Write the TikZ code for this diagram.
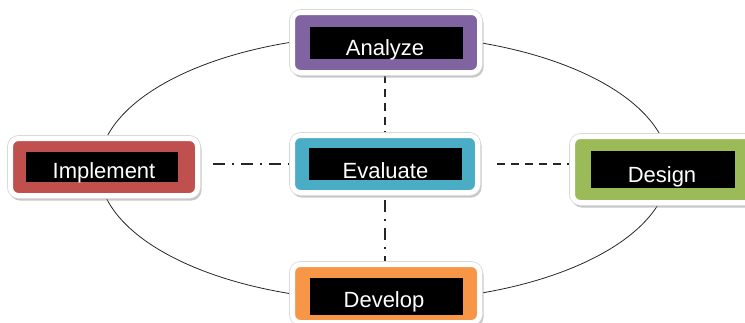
\documentclass[tikz,border=0pt]{standalone}
\usepackage{fontspec}
\setmainfont{Liberation Sans}
\usetikzlibrary{shadows,backgrounds}
\definecolor{cAn}{HTML}{8064A2}
\definecolor{cEv}{HTML}{4BACC6}
\definecolor{cIm}{HTML}{C0504D}
\definecolor{cDe}{HTML}{9BBB59}
\definecolor{cDv}{HTML}{F79646}
\tikzset{
 frame/.style={rectangle, rounded corners=8pt, inner sep=0pt, fill=#1, draw=white, line width=5pt,
   drop shadow={shadow xshift=1.5pt, shadow yshift=-2.5pt, fill=black!40, draw=black!40, line width=5pt, opacity=0.55},
   preaction={draw=black!15, line width=6.6pt}},
 blk/.style={rectangle, fill=black, inner sep=0pt},
 lbl/.style={text=white, font=\fontsize{22}{24}\selectfont, inner sep=0pt, anchor=base},
 ring/.style={draw=black!85, line width=0.8pt},
 dashlink/.style={draw=black!85, line width=1.9pt, dash pattern=on 8pt off 6pt},
 dotlink/.style={draw=black!85, line width=1.9pt, dash pattern=on 12pt off 7pt on 2pt off 7pt},
}
\begin{document}
\begin{tikzpicture}[x=1pt,y=-1pt]
\useasboundingbox (0,0) rectangle (745,322);
% boxes
\node[frame=cAn, minimum width=187pt, minimum height=60pt] (an) at (386,42.5) {};
\node[blk, minimum width=153pt, minimum height=32pt] (anb) at (386.5,43) {};
\node[lbl] (anl) at (385,55) {Analyze};

\node[frame=cEv, minimum width=185pt, minimum height=57pt] (ev) at (385,164) {};
\node[blk, minimum width=153pt, minimum height=32pt] (evb) at (385.5,164) {};
\node[lbl] (evl) at (385.5,178) {Evaluate};

\node[frame=cIm, minimum width=187pt, minimum height=57pt] (im) at (104,167) {};
\node[blk, minimum width=152pt, minimum height=30pt] (imb) at (102,167) {};
\node[lbl] (iml) at (104,178) {Implement};

\node[frame=cDe, minimum width=185pt, minimum height=66pt] (de) at (665,169.5) {};
\node[blk, minimum width=144pt, minimum height=37pt] (deb) at (663,169.5) {};
\node[lbl] (del) at (662,182) {Design};

\node[frame=cDv, minimum width=187pt, minimum height=58pt] (dv) at (386,293.5) {};
\node[blk, minimum width=153pt, minimum height=37pt] (dvb) at (386.5,296.5) {};
\node[lbl] (dvl) at (384,307) {Develop};

\begin{scope}[on background layer]
\draw[ring] (384,168) ellipse [x radius=285pt, y radius=133pt];
\draw[dashlink] (an.south -| ev.north) -- (ev.north);
\draw[dotlink, shorten <=5pt] (ev.south) -- (ev.south |- dv.north);
\draw[dotlink, shorten <=13pt] (im.east |- ev.west) -- (ev.west);
\draw[dashlink, shorten <=17pt] (ev.east) -- (ev.east -| de.west);
\end{scope}
\end{tikzpicture}
\end{document}
